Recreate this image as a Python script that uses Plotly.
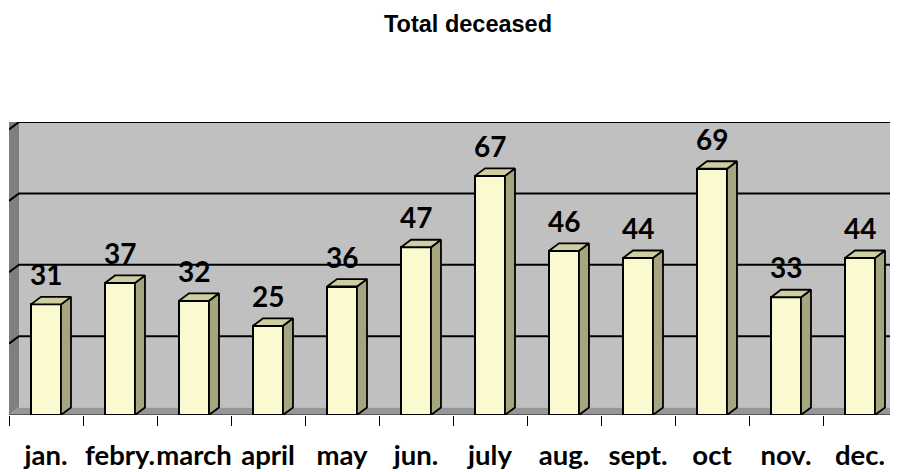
import plotly.graph_objects as go

months = ["jan.", "febry.", "march", "april", "may", "jun.", "july", "aug.", "sept.", "oct", "nov.", "dec."]
deceased = [31, 37, 32, 25, 36, 47, 67, 46, 44, 69, 33, 44]
grid_vals = [0, 20, 40, 60, 80]
title_text = "Total deceased"

# 3D look parameters (depth offsets in axis units)
W = 0.405
DX = 0.135
DY = 2.1
YMAX = 80 + DY

FRONT = "#FBF9D0"
SIDE = "#A5A580"
TOP = "#CECEA0"
WALL = "#C0C0C0"
SIDEWALL = "#7F7F7F"
FLOOR = "#969696"

xs = list(range(len(months)))

fig = go.Figure()

# front faces
fig.add_trace(go.Bar(
    x=xs, y=deceased, width=W,
    marker=dict(color=FRONT, line=dict(color="black", width=2)),
    hoverinfo="skip", showlegend=False,
))

# side and top faces
sx, sy = [], []
tx, ty = [], []
for x, v in zip(xs, deceased):
    r = x + W / 2
    l = x - W / 2
    sx += [r, r + DX, r + DX, r, r, None]
    sy += [0, DY, v + DY, v, 0, None]
    tx += [l, l + DX, r + DX, r, l, None]
    ty += [v, v + DY, v + DY, v, v, None]

fig.add_trace(go.Scatter(x=sx, y=sy, mode="lines", fill="toself", fillcolor=SIDE,
                         line=dict(color="black", width=1.8), hoverinfo="skip", showlegend=False))
fig.add_trace(go.Scatter(x=tx, y=ty, mode="lines", fill="toself", fillcolor=TOP,
                         line=dict(color="black", width=1.8), hoverinfo="skip", showlegend=False))

shapes = []
x0 = -0.5
x1 = len(months) - 0.5
XR = x0 + 896 / 74  # right end of plotting area (extends to the window edge)
# back wall
shapes.append(dict(type="rect", xref="x", yref="y", x0=x0 + DX, x1=XR + 1, y0=DY, y1=YMAX + 5,
                   fillcolor=WALL, line=dict(width=0), layer="below"))
# left side wall
shapes.append(dict(type="path", xref="x", yref="y",
                   path=f"M {x0},0 L {x0 + DX},{DY} L {x0 + DX},{YMAX + 5} L {x0},{YMAX + 5} Z",
                   fillcolor=SIDEWALL, line=dict(width=0), layer="below"))
# floor
shapes.append(dict(type="path", xref="x", yref="y",
                   path=f"M {x0},0 L {XR + 1},0 L {XR + 1 + DX},{DY} L {x0 + DX},{DY} Z",
                   fillcolor=FLOOR, line=dict(width=0), layer="below"))
# gridlines
for g in grid_vals[1:]:
    shapes.append(dict(type="path", xref="x", yref="y",
                       path=f"M {x0},{g} L {x0 + DX},{g + DY} L {XR + 1},{g + DY}",
                       line=dict(color="black", width=2), layer="below"))
# floor front edge
shapes.append(dict(type="line", xref="x", yref="y", x0=x0, x1=XR + 1, y0=0, y1=0,
                   line=dict(color="#404040", width=1.5), layer="below"))

annotations = []
for x, v in zip(xs, deceased):
    annotations.append(dict(x=x, y=v, xref="x", yref="y", text=str(v), showarrow=False,
                            yanchor="bottom", yshift=11,
                            font=dict(family="Lato", size=28, color="black", weight="bold")))
annotations.append(dict(x=(460 - 1) / 896, y=1, xref="paper", yref="paper", yanchor="middle",
                        yshift=98, text=f"<b>{title_text}</b>", showarrow=False,
                        font=dict(family="Liberation Sans, Arial", size=23.5, color="black")))

fig.update_layout(
    width=898, height=472,
    margin=dict(l=1, r=1, t=114, b=65, autoexpand=False),
    paper_bgcolor="white", plot_bgcolor="rgba(0,0,0,0)",
    shapes=shapes, annotations=annotations,
    bargap=0,
    xaxis=dict(range=[x0, XR], tickvals=xs, ticktext=months, ticks="", showgrid=False,
               zeroline=False, showline=False, ticklabelstandoff=21, tickangle=0,
               automargin=False,
               tickfont=dict(family="Lato", size=27.5, color="black", weight="bold")),
    xaxis2=dict(range=[x0, XR], overlaying="x", anchor="y", side="bottom",
                tickvals=[i - 0.5 for i in range(len(months) + 1)], ticks="outside",
                ticklen=10, tickwidth=1, tickcolor="black", showticklabels=False,
                showgrid=False, zeroline=False, showline=False, automargin=False),
    yaxis=dict(range=[0, YMAX], showgrid=False, zeroline=False, showticklabels=False,
               ticks="", showline=False, automargin=False),
)
fig.add_trace(go.Scatter(x=[x0], y=[0], xaxis="x2", mode="markers", marker=dict(opacity=0),
                         hoverinfo="skip", showlegend=False))

fig.write_html("out.html")
